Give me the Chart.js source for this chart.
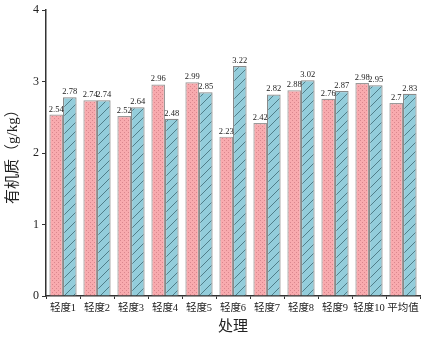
<!DOCTYPE html>
<html>
<head>
<meta charset="utf-8">
<script src="https://cdn.jsdelivr.net/npm/chart.js@4/dist/chart.umd.min.js"></script>
<style>
  html, body { margin: 0; padding: 0; background: #fff; }
  canvas { display: block; }
</style>
</head>
<body>
<canvas id="chartMO" width="443" height="364"></canvas>
<script>
// categorias y valores
const categorias = ["轻度1", "轻度2", "轻度3", "轻度4", "轻度5", "轻度6", "轻度7", "轻度8", "轻度9", "轻度10", "平均值"];
const serieRosa = [2.54, 2.74, 2.52, 2.96, 2.99, 2.23, 2.42, 2.88, 2.76, 2.98, 2.7];
const serieAzul = [2.78, 2.74, 2.64, 2.48, 2.85, 3.22, 2.82, 3.02, 2.87, 2.95, 2.83];
const ticksY = [0, 1, 2, 3, 4];

// patrones de relleno
function patronPuntos() {
    const c = document.createElement("canvas");
    c.width = 4; c.height = 4;
    const g = c.getContext("2d");
    g.fillStyle = "#f8aaae";
    g.fillRect(0, 0, 4, 4);
    g.fillStyle = "#d9868d";
    g.fillRect(0, 0, 1, 1);
    g.fillRect(2, 2, 1, 1);
    return g.createPattern(c, "repeat");
}
function patronRayas() {
    const c = document.createElement("canvas");
    c.width = 9; c.height = 9;
    const g = c.getContext("2d");
    g.fillStyle = "#93cddb";
    g.fillRect(0, 0, 9, 9);
    g.strokeStyle = "#3f6a73";
    g.lineWidth = 0.8;
    g.beginPath();
    g.moveTo(-1, 10); g.lineTo(10, -1);
    g.moveTo(-1, 1); g.lineTo(1, -1);
    g.moveTo(8, 10); g.lineTo(10, 8);
    g.stroke();
    return g.createPattern(c, "repeat");
}

const FUENTE = "'Liberation Serif', 'Noto Sans CJK SC', serif";
Chart.defaults.font.family = FUENTE;
Chart.defaults.color = "#222";

// etiquetas de valor encima de cada barra
const etiquetas = {
    id: "etiquetas",
    afterDatasetsDraw(chart) {
        const ctx = chart.ctx;
        ctx.save();
        ctx.font = "8.5px " + FUENTE;
        ctx.fillStyle = "#222";
        ctx.textAlign = "center";
        ctx.textBaseline = "bottom";
        chart.data.datasets.forEach((ds, i) => {
            chart.getDatasetMeta(i).data.forEach((bar, j) => {
                ctx.fillText(String(ds.data[j]), bar.x, bar.y - 1);
            });
        });
        ctx.restore();
    }
};

const ctxMO = document.getElementById("chartMO").getContext("2d");
new Chart(ctxMO, {
    type: "bar",
    data: {
        labels: categorias,
        datasets: [{
            data: serieRosa,
            backgroundColor: patronPuntos(),
            borderColor: "#9a9a9a",
            borderWidth: 1.2,
            categoryPercentage: 0.8,
            barPercentage: 1
        }, {
            data: serieAzul,
            backgroundColor: patronRayas(),
            borderColor: "#8a8a8a",
            borderWidth: 1.2,
            categoryPercentage: 0.8,
            barPercentage: 1
        }]
    },
    options: {
        responsive: false,
        animation: false,
        layout: { padding: { top: 8, right: 23, left: 0, bottom: 24 } },
        plugins: { legend: { display: false }, tooltip: { enabled: false } },
        scales: {
            x: {
                afterFit(s) { s.height = 44; },
                grid: { display: true, drawOnChartArea: false, color: "#333", tickLength: 3, offset: true },
                border: { color: "#333", width: 1.5 },
                ticks: { font: { size: 10.5 }, padding: 3, maxRotation: 0, autoSkip: false },
                title: { display: true, text: "处理", font: { size: 15 }, padding: { top: 4, bottom: 4 } }
            },
            y: {
                min: 0,
                max: 4,
                afterFit(s) { s.width = 46; },
                afterBuildTicks(s) { s.ticks = ticksY.map(v => ({ value: v })); },
                grid: { display: true, drawOnChartArea: false, color: "#333", tickLength: 4 },
                border: { color: "#333", width: 1.5 },
                ticks: { font: { size: 12 }, padding: 3 },
                title: { display: true, text: "有机质（g/kg）", font: { size: 15 }, padding: { bottom: 2 } }
            }
        }
    },
    plugins: [etiquetas]
});
</script>
</body>
</html>
